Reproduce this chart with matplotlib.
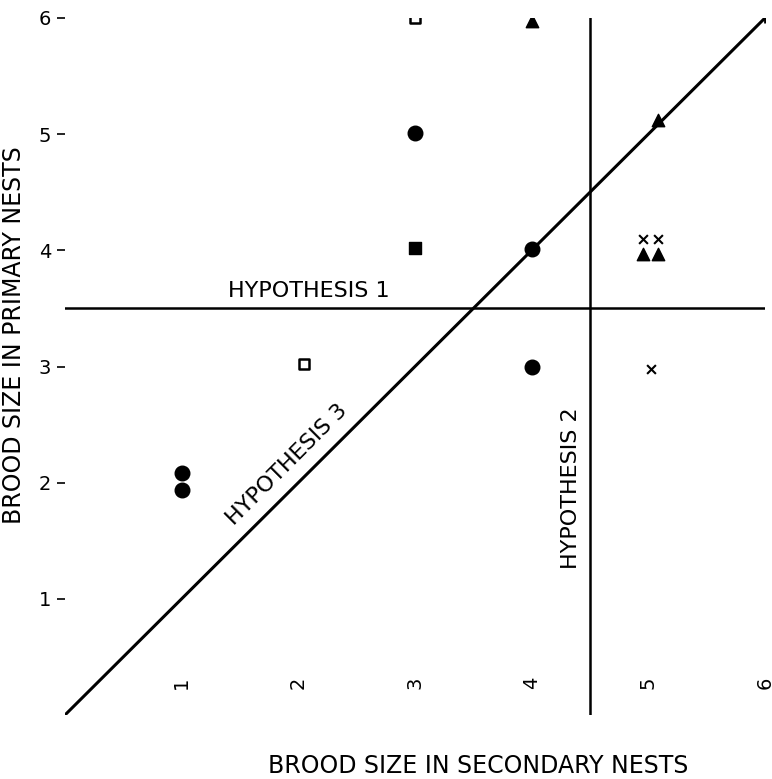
import matplotlib
matplotlib.use("Agg")
import matplotlib.pyplot as plt

# ---- data ----
circle_x = [3, 4, 4, 1, 1]
circle_y = [5.01, 4.01, 3.0, 2.08, 1.94]
open_sq_x = [3, 2.05]
open_sq_y = [6.0, 3.02]
filled_sq_x = [3]
filled_sq_y = [4.02]
tri_x = [4, 5.08, 4.95, 5.08]
tri_y = [5.97, 5.12, 3.97, 3.97]
cross_x = [4.95, 5.08, 5.02]
cross_y = [4.1, 4.1, 2.98]
star_x = [6]
star_y = [6.02]

hyp1_y = 3.5
hyp2_x = 4.5
ticks = [1, 2, 3, 4, 5, 6]

plt.rcParams['font.family'] = ['DejaVu Sans']

fig = plt.figure(figsize=(7.72, 7.79), dpi=100)
ax = fig.add_axes([0.084, 0.082, 0.907, 0.895])

# hypothesis lines
ax.plot([0, 6], [hyp1_y, hyp1_y], color='black', lw=1.8)
ax.plot([hyp2_x, hyp2_x], [0, 6], color='black', lw=1.8)
ax.plot([0, 6], [0, 6], color='black', lw=2.2)

# points
ax.scatter(circle_x, circle_y, marker='o', s=110, color='black', zorder=3)
ax.scatter(open_sq_x, open_sq_y, marker='s', s=55, facecolor='white',
           edgecolor='black', linewidth=1.8, zorder=3)
ax.scatter(filled_sq_x, filled_sq_y, marker='s', s=70, color='black', zorder=3)
ax.scatter(tri_x, tri_y, marker='^', s=80, color='black', zorder=3)
ax.scatter(cross_x, cross_y, marker='x', s=40, color='black', linewidth=1.5, zorder=3)
ax.scatter(star_x, star_y, marker='+', s=90, color='black', linewidth=2, zorder=3)

# labels on the lines
ax.text(2.09, 3.56, "HYPOTHESIS 1", fontsize=16, ha='center', va='bottom')
ax.text(4.34, 1.95, "HYPOTHESIS 2", fontsize=16, ha='center', va='center', rotation=90)
ax.text(1.9, 2.16, "HYPOTHESIS 3", fontsize=16, ha='center', va='center',
        rotation=45, rotation_mode='anchor')

ax.set_xlim(0, 6)
ax.set_ylim(0, 6)
for s in ax.spines.values():
    s.set_visible(False)

ax.set_xticks(ticks)
ax.set_xticklabels([str(t) for t in ticks], rotation=90)
ax.set_yticks(ticks)
ax.tick_params(axis='x', direction='in', length=0, pad=-28, labelsize=14)
ax.tick_params(axis='y', direction='out', length=6, width=1.2, pad=4, labelsize=14)

ax.set_xlabel("BROOD SIZE IN SECONDARY NESTS", fontsize=17)
ax.set_ylabel("BROOD SIZE IN PRIMARY NESTS", fontsize=17)
ax.xaxis.set_label_coords(0.59, -0.056)
ax.yaxis.set_label_coords(-0.056, 0.545)

fig.savefig("out.png", dpi=100)
